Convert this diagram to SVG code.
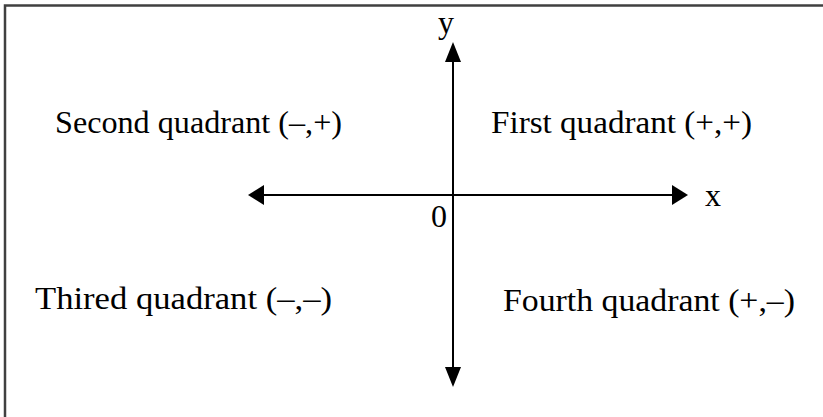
<svg xmlns="http://www.w3.org/2000/svg" width="823" height="417" viewBox="0 0 823 417">
<style>
.t{font-family:"Liberation Serif","Times New Roman",serif;font-size:32px;fill:#000}
.ax{stroke:#000;stroke-width:2;fill:none}
.hd{fill:#000}
</style>
<rect width="823" height="417" fill="#fff"/>
<g id="frame"><path d="M5,417 V5.5 H823" fill="none" stroke="#404040" stroke-width="2.5"/></g>
<g id="connectors">
<line class="ax" x1="264" y1="195" x2="672" y2="195"/>
<polygon class="hd" points="248,195 264,185 264,205"/>
<polygon class="hd" points="688,195 672,185 672,205"/>
<line class="ax" x1="453" y1="62" x2="453" y2="367"/>
<polygon class="hd" points="453,42 445,62 461,62"/>
<polygon class="hd" points="453,387 445,367 461,367"/>
</g>
<g id="label-y"><text class="t" x="438" y="33">y</text></g>
<g id="label-x"><text class="t" x="705" y="206">x</text></g>
<g id="label-0"><text class="t" x="431" y="227">0</text></g>
<g id="q2"><text class="t" x="55" y="133" textLength="287" lengthAdjust="spacingAndGlyphs">Second quadrant (–,+)</text></g>
<g id="q1"><text class="t" x="491" y="133" textLength="261" lengthAdjust="spacingAndGlyphs">First quadrant (+,+)</text></g>
<g id="q3"><text class="t" x="35" y="309" textLength="297" lengthAdjust="spacingAndGlyphs">Thired quadrant (–,–)</text></g>
<g id="q4"><text class="t" x="503" y="311" textLength="292" lengthAdjust="spacingAndGlyphs">Fourth quadrant (+,–)</text></g>
</svg>
